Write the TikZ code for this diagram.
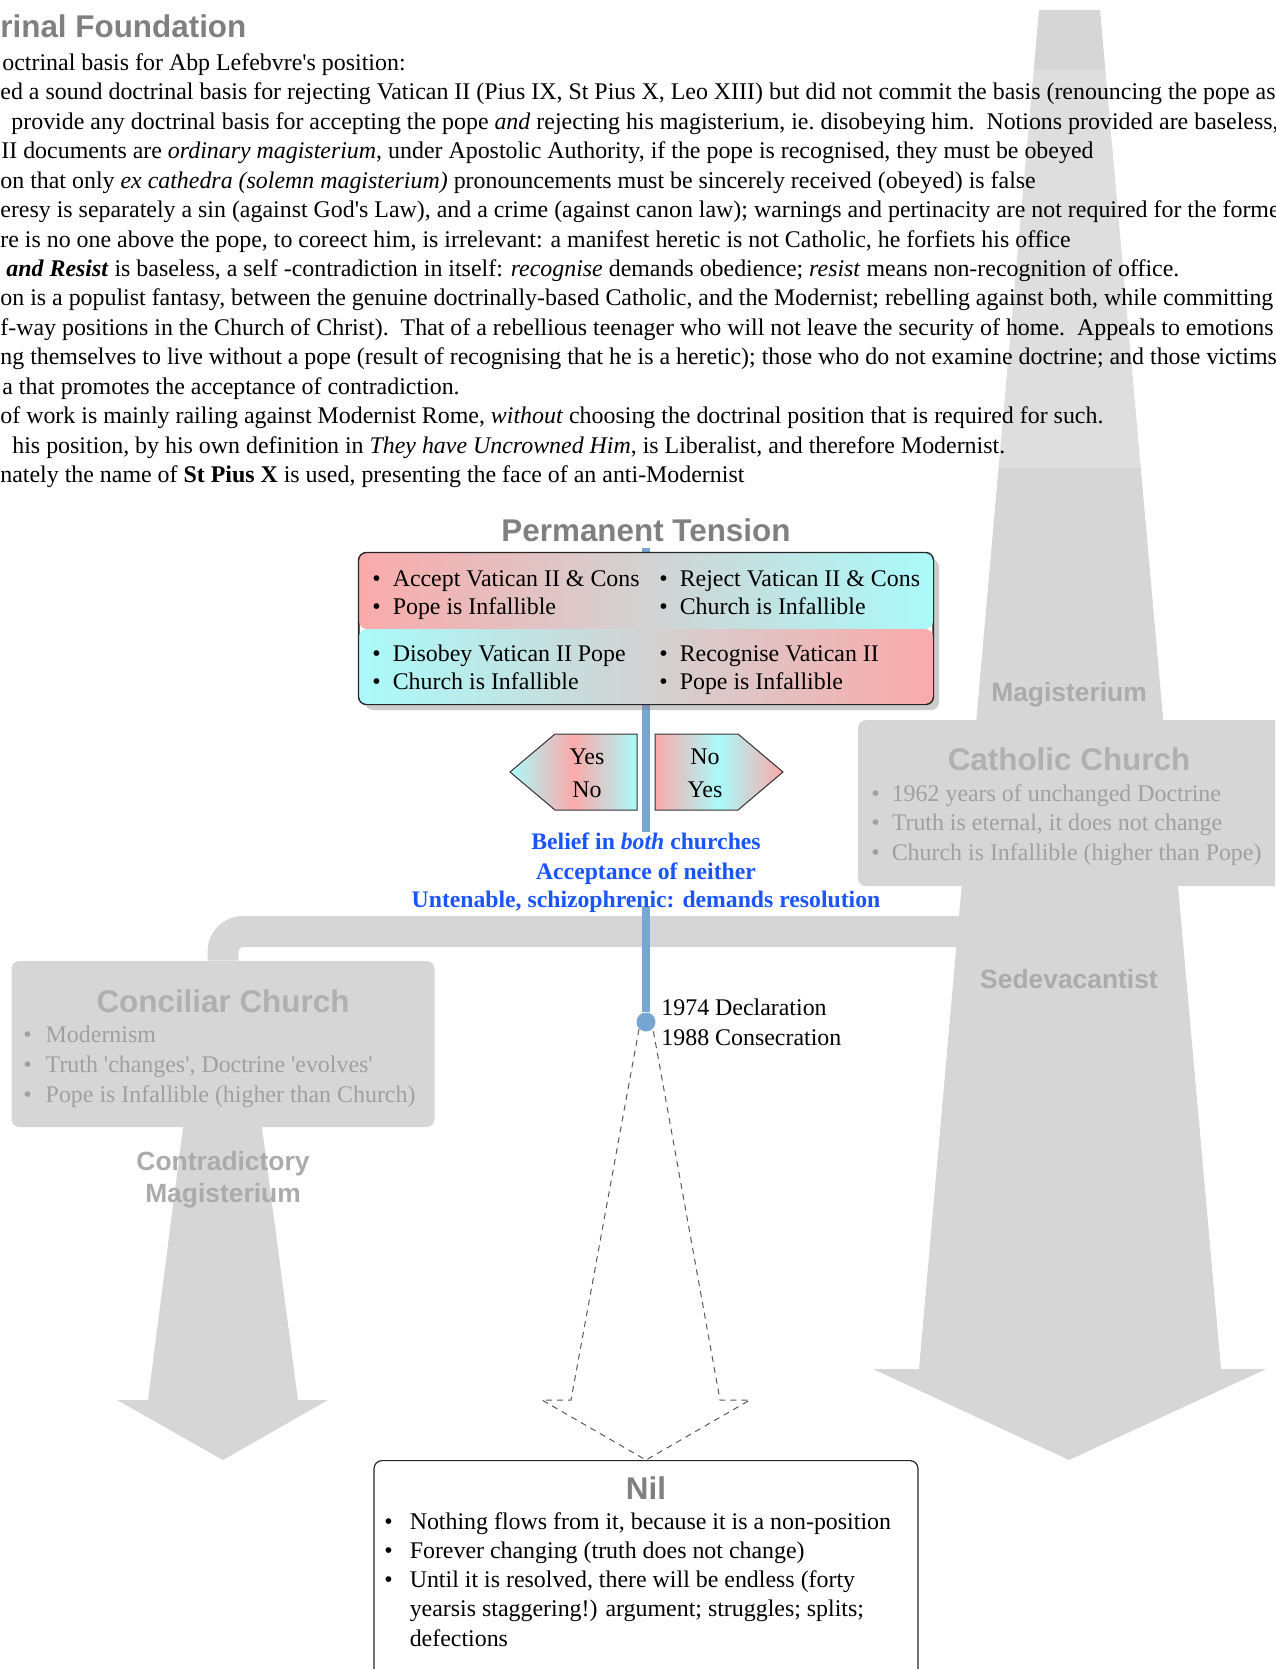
\documentclass[tikz,border=0pt]{standalone}
\usepackage{fontspec}
\setmainfont{Liberation Serif}
\newfontfamily\headfont{Liberation Sans}
\usetikzlibrary{shadows}

\definecolor{shapegrey}{HTML}{D6D6D6}
\definecolor{titlegrey}{HTML}{808080}
\definecolor{palehead}{HTML}{B0B0B0}
\definecolor{paletext}{HTML}{A0A0A0}
\definecolor{palelabel}{HTML}{ABABAB}
\definecolor{pinkish}{RGB}{250,170,170}
\definecolor{cyanish}{RGB}{170,250,250}
\definecolor{lineblue}{RGB}{120,166,210}
\definecolor{textblue}{RGB}{25,85,250}

\newcommand{\blt}[1][6pt]{\textbullet\hspace{#1}}
\newcommand{\bltgap}[1][6pt]{\hphantom{\textbullet}\hspace{#1}}
\newcommand{\sq}{\textquotesingle}

\begin{document}
\begin{tikzpicture}
  [x=0.5pt,y=-0.5pt,every node/.style={inner sep=0pt},
   heading/.style={font=\headfont\bfseries\fontsize{15.7}{19}\selectfont,text=titlegrey,anchor=base},
   boxhead/.style={font=\headfont\bfseries\fontsize{15.7}{19}\selectfont,text=palehead,anchor=base},
   flowlabel/.style={font=\headfont\bfseries\fontsize{13.2}{16}\selectfont,text=palelabel,anchor=base,align=center},
   body/.style={font=\fontsize{11.95}{14}\selectfont,anchor=base west},
   cell/.style={font=\fontsize{11.95}{14}\selectfont,anchor=base west,align=left},
   greycell/.style={cell,text=paletext},
   bluetext/.style={font=\bfseries\fontsize{11.85}{14}\selectfont,text=textblue,anchor=base},
   greybox/.style={fill=shapegrey,rounded corners=4pt},
   half/.style={rounded corners=4pt,minimum width=287pt},
   blueline/.style={draw=lineblue,line width=3.7pt},
   band/.style={draw=shapegrey,line width=15.5pt,rounded corners=10pt},
   tip/.style={draw=black!80,line width=0.5pt},
   nilarrow/.style={draw=black!65,line width=0.5pt,dash pattern=on 3pt off 2.5pt}]
  \useasboundingbox (0,0) rectangle (1275,1669);
  \clip (0,0) rectangle (1275,1669);

  \fill[shapegrey] (1039,10) -- (1100,10) -- (1221,1369) -- (1266,1369) -- (1069,1460) -- (873,1369) -- (919,1369) -- cycle;
  \fill[white,opacity=0.2] (0,70) rectangle (1275,468);
  \fill[shapegrey] (184,1120) -- (261,1120) -- (298,1400) -- (328,1400) -- (223,1460) -- (117,1400) -- (148,1400) -- cycle;

  \node[heading,anchor=base west] (found) at (0,38) {rinal Foundation};
  \foreach \i/\xx/\txt in {
    1/2/{octrinal basis for Abp Lefebvre\sq s position:},
    2/0/{ed a sound doctrinal basis for rejecting Vatican II (Pius IX, St Pius X, Leo XIII) but did not commit the basis (renouncing the pope as},
    3/11/{provide any doctrinal basis for accepting the pope \emph{and} rejecting his magisterium, ie.\ disobeying him.\ \ Notions provided are baseless,},
    4/1/{II documents are \emph{ordinary magisterium}, under Apostolic Authority, if the pope is recognised, they must be obeyed},
    5/0/{on that only \emph{ex cathedra (solemn magisterium)} pronouncements must be sincerely received (obeyed) is false},
    6/0/{eresy is separately a sin (against God\sq s Law), and a crime (against canon law); warnings and pertinacity are not required for the forme},
    7/0/{re is no one above the pope, to coreect him, is irrelevant: a manifest heretic is not Catholic, he forfiets his office},
    8/6/{\textbf{\textit{and Resist}} is baseless, a self -contradiction in itself: \emph{recognise} demands obedience; \emph{resist} means non-recognition of office.},
    9/0/{on is a populist fantasy, between the genuine doctrinally-based Catholic, and the Modernist; rebelling against both, while committing},
    10/0/{f-way positions in the Church of Christ).\ \ That of a rebellious teenager who will not leave the security of home.\ \ Appeals to emotions},
    11/0/{ng themselves to live without a pope (result of recognising that he is a heretic); those who do not examine doctrine; and those victims},
    12/2/{a that promotes the acceptance of contradiction.},
    13/0/{of work is mainly railing against Modernist Rome, \emph{without} choosing the doctrinal position that is required for such.},
    14/12/{his position, by his own definition in \emph{They have Uncrowned Him}, is Liberalist, and therefore Modernist.},
    15/0/{nately the name of \textbf{St Pius X} is used, presenting the face of an anti-Modernist}}
    \node[body] (line\i) at (\xx,{41+29.43*\i}) {\txt};

  \node[greybox,minimum width=230pt,minimum height=83pt] (catholic) at (1088,803) {};
  \node[flowlabel] (magist) at (1069,701) {Magisterium};
  \node[boxhead] (cathhead) at (1069,770) {Catholic Church};
  \node[greycell,font=\fontsize{11.95}{14.6}\selectfont] (cathlist) at (871,860) {\blt 1962 years of unchanged Doctrine\\ \blt Truth is eternal, it does not change\\ \blt Church is Infallible (higher than Pope)};
  \node[flowlabel] (sede) at (1069,988) {Sedevacantist};

  \node[greybox,minimum width=211.5pt,minimum height=83pt] (concil) at (223,1044) {};
  \node[boxhead] (conchead) at (223,1012) {Conciliar Church};
  \node[greycell,font=\fontsize{11.95}{14.9}\selectfont] (conclist) at (23,1102) {\blt[7pt]Modernism\\ \blt[7pt]Truth \sq changes\sq , Doctrine \sq evolves\sq\\ \blt[7pt]Pope is Infallible (higher than Church)};
  \node[flowlabel] (contra) at (223,1202) {Contradictory\\Magisterium};
  \coordinate (bandstart) at (990,931.5);
  \draw[band] (bandstart) -| (concil.north);

  \node[heading] (tensionhead) at (646,541) {Permanent Tension};
  \node[bluetext] (belief) at (646,849) {Belief in \textit{both} churches};
  \node[bluetext] (neither) at (646,879) {Acceptance of neither};
  \node[bluetext] (untenable) at (646,907) {Untenable, schizophrenic: demands resolution};

  \coordinate (linetop) at (646,548);
  \node[circle,fill=lineblue,minimum size=9.5pt] (rift) at (646,1022) {};
  \draw[blueline] (linetop) -- (belief.north);
  \draw[blueline] (untenable.base) -- (rift);

  \node[draw=black!85,line width=0.6pt,fill=white,rounded corners=4pt,minimum width=287pt,minimum height=75.5pt,
        drop shadow={shadow xshift=3pt,shadow yshift=-3pt,opacity=0.4}] (tension) at (646,628.5) {};
  \node[half,minimum height=38pt,left color=pinkish,right color=cyanish] (upper) at (646,591) {};
  \node[half,minimum height=37.5pt,left color=cyanish,right color=pinkish] (lower) at (646,666.5) {};
  \draw[black!85,line width=0.6pt,rounded corners=4pt] (tension.north west) rectangle (tension.south east);
  \node[cell] (accept) at (372,614) {\blt Accept Vatican II \& Cons\\ \blt Pope is Infallible};
  \node[cell] (reject) at (659,614) {\blt Reject Vatican II \& Cons\\ \blt Church is Infallible};
  \node[cell] (disobey) at (372,689) {\blt Disobey Vatican II Pope\\ \blt Church is Infallible};
  \node[cell] (recog) at (659,689) {\blt Recognise Vatican II\\ \blt Pope is Infallible};

  \shadedraw[tip,left color=cyanish,right color=cyanish,middle color=pinkish] (637,734) -- (555,734) -- (510,772) -- (555,810) -- (637,810) -- cycle;
  \shadedraw[tip,left color=pinkish,right color=pinkish,middle color=cyanish] (655,734) -- (738,734) -- (783,772) -- (738,810) -- (655,810) -- cycle;
  \node[cell,anchor=base,align=center,font=\fontsize{11.95}{16.5}\selectfont] (yesno) at (587,797) {Yes\\No};
  \node[cell,anchor=base,align=center,font=\fontsize{11.95}{16.5}\selectfont] (noyes) at (705,797) {No\\Yes};

  \node[cell,font=\fontsize{11.95}{14.6}\selectfont] (dates) at (661,1045) {1974 Declaration\\1988 Consecration};

  \node[draw=black!85,line width=0.6pt,rounded corners=4pt,minimum width=272pt,minimum height=115pt,anchor=north] (nil) at (646,1460) {};
  \node[heading] (nilhead) at (646,1499) {Nil};
  \node[cell,font=\fontsize{11.95}{14.6}\selectfont] (nillist) at (384,1646) {\blt[8.5pt]Nothing flows from it, because it is a non-position\\ \blt[8.5pt]Forever changing (truth does not change)\\ \blt[8.5pt]Until it is resolved, there will be endless (forty\\ \bltgap[8.5pt]yearsis staggering!) argument; struggles; splits;\\ \bltgap[8.5pt]defections};
  \draw[nilarrow] (rift.south west) -- (571,1400) -- (542,1400) -- (nil.north) -- (750,1400) -- (720,1400) -- (rift.south east);
\end{tikzpicture}
\end{document}
